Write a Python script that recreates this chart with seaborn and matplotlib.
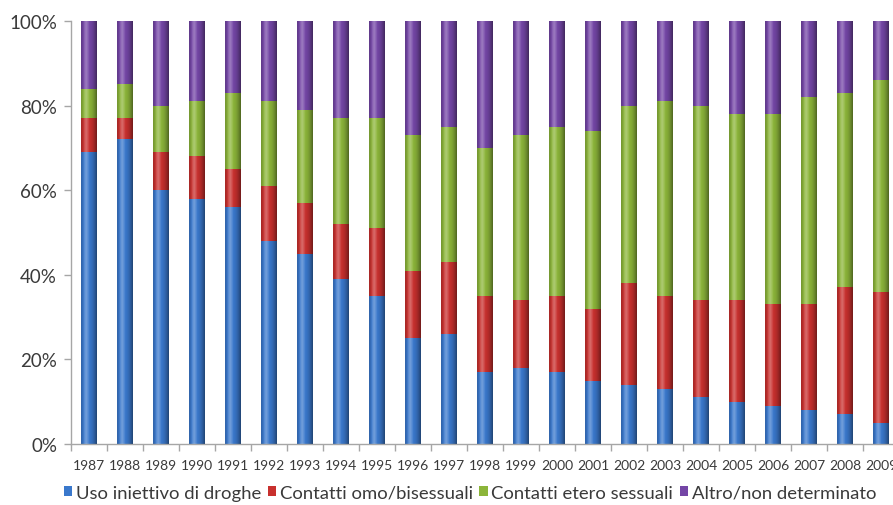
import numpy as np
import pandas as pd
import matplotlib
matplotlib.use("Agg")
import matplotlib.pyplot as plt
from matplotlib.patches import Patch
from matplotlib.ticker import PercentFormatter, FixedLocator
import seaborn as sns

# Share of new cases by route of transmission, per year (percent)
years = [str(y) for y in range(1987, 2010)]
uso_iniettivo = [69, 72, 60, 58, 56, 48, 45, 39, 35, 25, 26, 17, 18, 17, 15, 14, 13, 11, 10, 9, 8, 7, 5]
omo_bisessuali = [8, 5, 9, 10, 9, 13, 12, 13, 16, 16, 17, 18, 16, 18, 17, 24, 22, 23, 24, 24, 25, 30, 31]
etero_sessuali = [7, 8, 11, 13, 18, 20, 22, 25, 26, 32, 32, 35, 39, 40, 42, 42, 46, 46, 44, 45, 49, 46, 50]
altro = [16, 15, 20, 19, 17, 19, 21, 23, 23, 27, 25, 30, 27, 25, 26, 20, 19, 20, 22, 22, 18, 17, 14]

labels = ["Uso iniettivo di droghe", "Contatti omo/bisessuali",
          "Contatti etero sessuali", "Altro/non determinato"]
colors = ["#3A78CC", "#C8302E", "#8CB53A", "#7446A6"]

df = pd.DataFrame({"anno": years, labels[0]: uso_iniettivo, labels[1]: omo_bisessuali,
                   labels[2]: etero_sessuali, labels[3]: altro})
cum = df[labels].cumsum(axis=1)

sns.set_style("white")
plt.rcParams["font.family"] = ["Lato", "DejaVu Sans"]
text_color = "#3a3a3a"
axis_color = "#a6a6a6"

fig = plt.figure(figsize=(8.93, 5.06), dpi=100)
ax = fig.add_axes([71 / 893, 61 / 506, 828 / 893, 423 / 506])

# Stack drawn back to front: each layer is the cumulative total up to that series
for i in range(3, -1, -1):
    sns.barplot(x=df["anno"], y=cum[labels[i]], color=colors[i], width=0.44,
                saturation=1, ax=ax, zorder=2 + (3 - i) * 0.1, linewidth=0)

# Cylinder-like shading across each full bar
n = 200
xs = np.linspace(0, 1, n)
shade = np.zeros((1, n, 4))
dark = 0.45 * (np.abs(xs - 0.4) / 0.6) ** 2.2
light = 0.30 * np.clip(1 - np.abs(xs - 0.33) / 0.22, 0, 1)
shade[0, :, :3] = np.where(light[:, None] > dark[:, None], 1.0, 0.0)
shade[0, :, 3] = np.maximum(light, dark)
full_bars = ax.patches[:len(years)]
for p in full_bars:
    x0, w = p.get_x(), p.get_width()
    im = ax.imshow(shade, extent=[x0, x0 + w, 0, p.get_height()], aspect="auto",
                   zorder=3, interpolation="bilinear")
    im.set_clip_path(p)

ax.set_xlim(-0.5, len(years) - 0.5)
ax.set_ylim(0, 100)
ax.set_xlabel("")
ax.set_ylabel("")

ax.yaxis.set_major_locator(FixedLocator([0, 20, 40, 60, 80, 100]))
ax.yaxis.set_major_formatter(PercentFormatter(100, decimals=0))
ax.tick_params(axis="y", direction="out", length=5, width=1, color=axis_color,
               labelsize=13.5, labelcolor=text_color, pad=5, left=True)
ax.xaxis.set_minor_locator(FixedLocator(np.arange(-0.5, len(years), 1.0)))
ax.tick_params(axis="x", which="major", length=0, labelsize=10,
               labelcolor=text_color, pad=11)
ax.tick_params(axis="x", which="minor", direction="out", length=5, width=1,
               color=axis_color, bottom=True)

for side in ["top", "right"]:
    ax.spines[side].set_visible(False)
for side in ["left", "bottom"]:
    ax.spines[side].set_color(axis_color)
    ax.spines[side].set_linewidth(1)

handles = [Patch(facecolor=c, edgecolor="none") for c in colors]
fig.legend(handles, labels, loc="center", bbox_to_anchor=(470 / 893, 1 - 494 / 506),
           ncol=4, frameon=False, fontsize=13.3, handlelength=0.45, handleheight=0.45,
           handletextpad=0.2, columnspacing=0.35, labelcolor=text_color,
           borderpad=0, borderaxespad=0)

fig.savefig("out.png", dpi=100, facecolor="white")
